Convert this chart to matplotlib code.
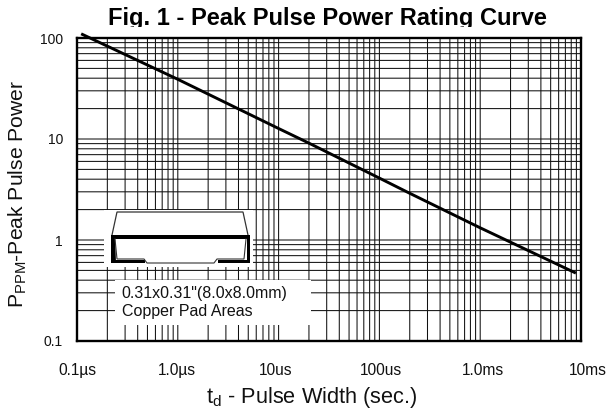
import matplotlib
matplotlib.use("Agg")
import matplotlib.pyplot as plt
from matplotlib.patches import Rectangle, Polygon
from matplotlib.ticker import LogLocator, NullFormatter, FixedLocator, FixedFormatter
from matplotlib.transforms import ScaledTranslation

plt.rcParams['font.family'] = ['Liberation Sans', 'DejaVu Sans']
plt.rcParams['mathtext.fontset'] = 'custom'
plt.rcParams['mathtext.rm'] = 'Liberation Sans'
plt.rcParams['mathtext.default'] = 'rm'

pulse_width = [1.1e-7, 1e-6, 1e-5, 2e-5, 1e-4, 2e-4, 1e-3, 8.9e-3]
peak_power = [110, 39, 12.7, 9.1, 4.1, 2.9, 1.32, 0.47]
x_ticks = [1e-7, 1e-6, 1e-5, 1e-4, 1e-3, 1e-2]
x_labels = ['0.1µs', '1.0µs', '10us', '100us', '1.0ms', '10ms']
y_ticks = [0.1, 1, 10, 100]
y_labels = ['0.1', '1', '10', '100']
x_label_shift_px = [0, -1, -3, 1.5, 3, 7]

W, H = 610, 412
fig = plt.figure(figsize=(W / 100, H / 100), dpi=100)
L, R, T, B = 77, 581, 38, 341
ax = fig.add_axes([L / W, 1 - B / H, (R - L) / W, (B - T) / H])
ax.set_xscale('log')
ax.set_yscale('log')
ax.set_xlim(1e-7, 1e-2)
ax.set_ylim(0.1, 100)
ax.xaxis.set_major_locator(FixedLocator(x_ticks))
ax.xaxis.set_major_formatter(FixedFormatter(x_labels))
ax.yaxis.set_major_locator(FixedLocator(y_ticks))
ax.yaxis.set_major_formatter(FixedFormatter(y_labels))
for axis in (ax.xaxis, ax.yaxis):
    axis.set_minor_locator(LogLocator(base=10, subs=range(2, 10), numticks=12))
    axis.set_minor_formatter(NullFormatter())
ax.tick_params(which='both', length=0)
ax.tick_params(axis='x', pad=15.5, labelsize=11.2, labelcolor='#111111')
ax.tick_params(axis='y', pad=10, labelsize=10, labelcolor='#111111')
ax.grid(True, which='both', color='#111111', lw=0.75, zorder=1)
ax.set_axisbelow(True)
fig.canvas.draw()
for axis in (ax.xaxis, ax.yaxis):
    for tick in axis.get_major_ticks() + axis.get_minor_ticks():
        tick.gridline.set_snap(False)
for s in ax.spines.values():
    s.set_linewidth(1.7)
    s.set_color('black')
    s.set_zorder(6)
for lab, dx in zip(ax.get_xticklabels(), x_label_shift_px):
    lab.set_transform(lab.get_transform() + ScaledTranslation(dx / 100, 0, fig.dpi_scale_trans))

ax.plot(pulse_width, peak_power, color='black', lw=2.1, clip_on=False, zorder=5,
        solid_capstyle='butt')


# overlay artwork in figure pixels (y downward)
def px(x, y):
    return (x / W, 1 - y / H)


def box(x0, y0, x1, y1):
    fig.add_artist(Rectangle(px(x0, y1), (x1 - x0) / W, (y1 - y0) / H,
                             transform=fig.transFigure, fc='white', ec='none', zorder=7))


def line(pts, lw, color='black'):
    xs, ys = zip(*[px(*p) for p in pts])
    fig.add_artist(plt.Line2D(xs, ys, transform=fig.transFigure, color=color, lw=lw,
                              zorder=8, solid_joinstyle='miter'))


def solid(pts):
    fig.add_artist(Polygon([px(*p) for p in pts], closed=True, transform=fig.transFigure,
                           fc='black', ec='none', zorder=8))


box(104, 210, 253, 267)
box(115, 280, 311, 325)

# component drawing
line([(112, 235), (117, 212), (243, 212), (248, 235)], 0.9, '#333333')
solid([(111, 235), (250, 235), (250, 239), (111, 239)])
solid([(111, 235), (115, 235), (116, 263), (111, 263)])
solid([(247, 235), (250, 235), (250, 263), (247, 263)])
solid([(111, 260), (145, 260), (145, 263), (111, 263)])
solid([(218, 260), (250, 260), (250, 263), (218, 263)])
line([(115, 239), (117, 259), (144, 259), (147, 263), (214, 263), (217, 259), (244, 259), (246, 239)],
     0.8, '#333333')

fig.text(121.5 / W, 1 - 293.5 / H, '0.31x0.31"(8.0x8.0mm)', fontsize=11.5, va='center', ha='left',
         color='#111111', zorder=9)
fig.text(121.5 / W, 1 - 311.5 / H, 'Copper Pad Areas', fontsize=11.5, va='center', ha='left',
         color='#111111', zorder=9)

fig.text(327 / W, 1 - 25 / H, 'Fig. 1 - Peak Pulse Power Rating Curve', fontsize=17,
         fontweight='bold', ha='center', va='baseline', zorder=2)
box(100, 27.5, 560, 33)  # the title's descender is cut off in the source figure
fig.text(18 / W, 1 - 194 / H, r'P$_{\mathrm{PPM}}$-Peak Pulse Power', fontsize=15.2,
         rotation=90, ha='center', va='center', color='#111111')
fig.text(312 / W, 1 - 398 / H, r't$_{\mathrm{d}}$ - Pulse Width (sec.)', fontsize=15.7,
         ha='center', va='center', color='#111111')

fig.savefig('out.png', dpi=100)
